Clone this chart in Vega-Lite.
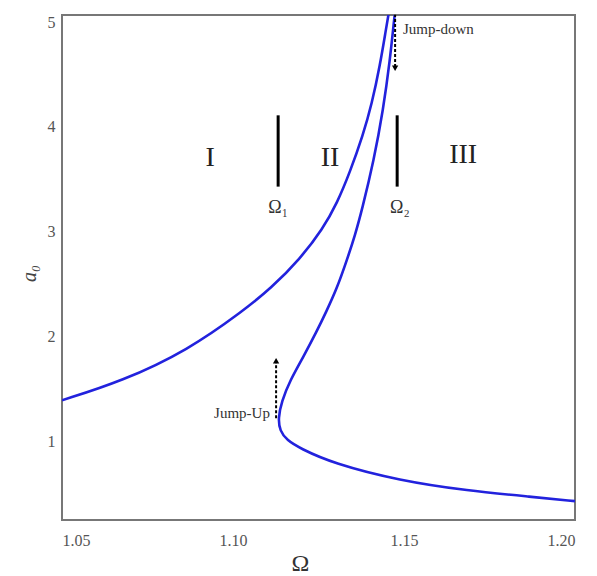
{
  "$schema": "https://vega.github.io/schema/vega-lite/v6.json",
  "width": 513,
  "height": 505,
  "autosize": {"type": "none"},
  "padding": {"left": 62, "top": 15, "right": 22, "bottom": 56},
  "background": "white",
  "config": {
    "view": {"stroke": "#777", "strokeWidth": 2},
    "font": "Liberation Serif"
  },
  "datasets": {
    "curve": [
      {"branch": "L", "k": 1, "omega": 1.05, "a": 1.392},
      {"branch": "L", "k": 2, "omega": 1.0675, "a": 1.573},
      {"branch": "L", "k": 3, "omega": 1.0868, "a": 1.869},
      {"branch": "L", "k": 4, "omega": 1.1032, "a": 2.251},
      {"branch": "L", "k": 5, "omega": 1.1111, "a": 2.46},
      {"branch": "L", "k": 6, "omega": 1.1196, "a": 2.74},
      {"branch": "L", "k": 7, "omega": 1.1263, "a": 3.03},
      {"branch": "L", "k": 8, "omega": 1.1304, "a": 3.27},
      {"branch": "L", "k": 9, "omega": 1.1342, "a": 3.569},
      {"branch": "L", "k": 10, "omega": 1.138, "a": 3.92},
      {"branch": "L", "k": 11, "omega": 1.1406, "a": 4.22},
      {"branch": "L", "k": 12, "omega": 1.143, "a": 4.591},
      {"branch": "L", "k": 13, "omega": 1.1447, "a": 4.926},
      {"branch": "L", "k": 14, "omega": 1.1456, "a": 5.097},
      {"branch": "R", "k": 1, "omega": 1.1474, "a": 5.097},
      {"branch": "R", "k": 2, "omega": 1.1471, "a": 5.021},
      {"branch": "R", "k": 3, "omega": 1.1459, "a": 4.639},
      {"branch": "R", "k": 4, "omega": 1.1439, "a": 4.161},
      {"branch": "R", "k": 5, "omega": 1.1412, "a": 3.684},
      {"branch": "R", "k": 6, "omega": 1.1377, "a": 3.206},
      {"branch": "R", "k": 7, "omega": 1.1357, "a": 2.968},
      {"branch": "R", "k": 8, "omega": 1.1333, "a": 2.729},
      {"branch": "R", "k": 9, "omega": 1.1304, "a": 2.46},
      {"branch": "R", "k": 10, "omega": 1.1272, "a": 2.232},
      {"branch": "R", "k": 11, "omega": 1.1245, "a": 2.05},
      {"branch": "R", "k": 12, "omega": 1.1205, "a": 1.802},
      {"branch": "R", "k": 13, "omega": 1.1167, "a": 1.583},
      {"branch": "R", "k": 14, "omega": 1.1142, "a": 1.38},
      {"branch": "R", "k": 15, "omega": 1.1132, "a": 1.22},
      {"branch": "R", "k": 16, "omega": 1.1137, "a": 1.1},
      {"branch": "R", "k": 17, "omega": 1.1158, "a": 1.01},
      {"branch": "R", "k": 18, "omega": 1.1196, "a": 0.934},
      {"branch": "R", "k": 19, "omega": 1.1292, "a": 0.79},
      {"branch": "R", "k": 20, "omega": 1.1488, "a": 0.625},
      {"branch": "R", "k": 21, "omega": 1.1684, "a": 0.53},
      {"branch": "R", "k": 22, "omega": 1.1877, "a": 0.47},
      {"branch": "R", "k": 23, "omega": 1.2, "a": 0.43}
    ],
    "markers": [
      {"omega": 1.1132, "a1": 3.43, "a2": 4.11},
      {"omega": 1.148, "a1": 3.43, "a2": 4.11}
    ],
    "jumps": [
      {"omega": 1.1126, "a1": 1.22, "a2": 1.76},
      {"omega": 1.1474, "a1": 4.57, "a2": 5.07}
    ],
    "heads": [
      {"omega": 1.1126, "a": 1.77, "shape": "triangle-up"},
      {"omega": 1.1474, "a": 4.56, "shape": "triangle-down"}
    ],
    "regions": [
      {"omega": 1.0933, "a": 3.7, "label": "I"},
      {"omega": 1.1284, "a": 3.7, "label": "II"},
      {"omega": 1.1673, "a": 3.73, "label": "III"}
    ],
    "omegas": [
      {"omega": 1.1132, "a": 3.23, "label": "Ω₁"},
      {"omega": 1.1488, "a": 3.23, "label": "Ω₂"}
    ],
    "jumpdown": [
      {"omega": 1.1497, "a": 4.93, "label": "Jump-down"}
    ],
    "jumpup": [
      {"omega": 1.1108, "a": 1.27, "label": "Jump-Up"}
    ]
  },
  "layer": [
    {
      "data": {"name": "curve"},
      "mark": {"type": "line", "color": "#2222dd", "strokeWidth": 2.6, "clip": true, "interpolate": "basis"},
      "encoding": {
        "x": {
          "field": "omega", "type": "quantitative",
          "scale": {"domain": [1.05, 1.2], "nice": false, "zero": false},
          "axis": {
            "values": [1.05, 1.1, 1.15, 1.2], "format": ".2f", "grid": false,
            "domain": false, "ticks": false, "labelPadding": 12,
            "labelFont": "Liberation Serif", "labelFontSize": 16, "labelColor": "#555",
            "title": "Ω", "titleFont": "Liberation Serif", "titleFontSize": 24,
            "titleFontWeight": "normal", "titleColor": "#333",
            "titleX": 238, "titleY": 50, "titleBaseline": "alphabetic"
          }
        },
        "y": {
          "field": "a", "type": "quantitative",
          "scale": {"domain": [0.25, 5.067], "nice": false, "zero": false},
          "axis": {
            "values": [1, 2, 3, 4, 5], "format": "d", "grid": false, "domain": false, "ticks": false,
            "labelPadding": 7, "labelFont": "Liberation Serif", "labelFontSize": 16,
            "labelColor": "#555",
            "title": "a₀", "titleFont": "Liberation Serif", "titleFontStyle": "italic",
            "titleFontSize": 20, "titleFontWeight": "normal", "titleColor": "#444",
            "titleX": -33, "titleY": 258, "titleBaseline": "middle"
          }
        },
        "detail": {"field": "branch"},
        "order": {"field": "k", "type": "quantitative"}
      }
    },
    {
      "data": {"name": "markers"},
      "mark": {"type": "rule", "color": "black", "strokeWidth": 3},
      "encoding": {
        "x": {"field": "omega", "type": "quantitative"},
        "y": {"field": "a1", "type": "quantitative"},
        "y2": {"field": "a2"}
      }
    },
    {
      "data": {"name": "jumps"},
      "mark": {"type": "rule", "color": "black", "strokeWidth": 2, "strokeDash": [3, 2]},
      "encoding": {
        "x": {"field": "omega", "type": "quantitative"},
        "y": {"field": "a1", "type": "quantitative"},
        "y2": {"field": "a2"}
      }
    },
    {
      "data": {"name": "heads"},
      "mark": {"type": "point", "filled": true, "color": "black", "size": 40, "opacity": 1},
      "encoding": {
        "x": {"field": "omega", "type": "quantitative"},
        "y": {"field": "a", "type": "quantitative"},
        "shape": {"field": "shape", "type": "nominal", "scale": null, "legend": null}
      }
    },
    {
      "data": {"name": "regions"},
      "mark": {"type": "text", "font": "Liberation Serif", "fontSize": 28, "color": "#222", "baseline": "middle", "align": "center"},
      "encoding": {
        "x": {"field": "omega", "type": "quantitative"},
        "y": {"field": "a", "type": "quantitative"},
        "text": {"field": "label"}
      }
    },
    {
      "data": {"name": "omegas"},
      "mark": {"type": "text", "font": "Liberation Serif", "fontSize": 18, "color": "#333", "baseline": "middle", "align": "center"},
      "encoding": {
        "x": {"field": "omega", "type": "quantitative"},
        "y": {"field": "a", "type": "quantitative"},
        "text": {"field": "label"}
      }
    },
    {
      "data": {"name": "jumpdown"},
      "mark": {"type": "text", "font": "Liberation Serif", "fontSize": 15, "color": "#333", "baseline": "middle", "align": "left"},
      "encoding": {
        "x": {"field": "omega", "type": "quantitative"},
        "y": {"field": "a", "type": "quantitative"},
        "text": {"field": "label"}
      }
    },
    {
      "data": {"name": "jumpup"},
      "mark": {"type": "text", "font": "Liberation Serif", "fontSize": 15, "color": "#333", "baseline": "middle", "align": "right"},
      "encoding": {
        "x": {"field": "omega", "type": "quantitative"},
        "y": {"field": "a", "type": "quantitative"},
        "text": {"field": "label"}
      }
    }
  ]
}
